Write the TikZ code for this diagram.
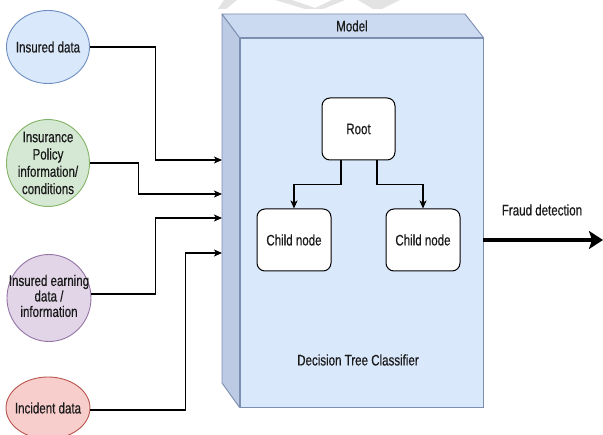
\documentclass[tikz,border=0pt]{standalone}
\usepackage{fontspec}
\setmainfont[FakeStretch=0.76,FakeBold=0.5]{Liberation Sans}
\usetikzlibrary{shapes.geometric,arrows.meta,calc}

\definecolor{blueF}{HTML}{DAE8FC}
\definecolor{blueD}{HTML}{6C8EBF}
\definecolor{greenF}{HTML}{D5E8D4}
\definecolor{greenD}{HTML}{82B366}
\definecolor{purpF}{HTML}{E1D5E7}
\definecolor{purpD}{HTML}{9673A6}
\definecolor{redF}{HTML}{F8CECC}
\definecolor{redD}{HTML}{B85450}
\definecolor{cubeTop}{HTML}{CBDAF1}
\definecolor{cubeSide}{HTML}{BCCBE3}
\definecolor{cubeLine}{HTML}{7D8FB0}
\definecolor{txt}{HTML}{1A1A1A}

\tikzset{
  src/.style={ellipse, draw, line width=0.9pt, inner sep=0pt},
  lbl/.style={align=center, inner sep=0pt, text=txt,
              font=\fontsize{15.2}{17}\selectfont},
  treebox/.style={rectangle, rounded corners=8pt, draw=black, fill=white,
                  line width=1pt, minimum width=74pt, minimum height=62pt,
                  inner sep=0pt, text=txt, font=\fontsize{15.2}{17}\selectfont},
  arr/.style={draw=black, line width=1.2pt,
              -{Stealth[length=8pt,width=7pt,inset=2pt]}},
  bigarr/.style={draw=black, line width=3.6pt,
                 -{Stealth[length=14pt,width=18pt,inset=3pt]}},
  wmark/.style={fill=black!11, draw=none},
}

\begin{document}
\begin{tikzpicture}[x=1pt, y=-1pt]
  \useasboundingbox (0,0) rectangle (603,435);
  \fill[white] (0,0) rectangle (603,435);

  % faint marks along the top edge
  \fill[wmark] (224,0) -- (237,0) -- (226,9) -- (218,9) -- cycle;
  \fill[wmark] (275,0) -- (292,0) -- (318,9) -- (305,9) -- cycle;
  \fill[wmark] (332,0) -- (345,0) -- (323,9) -- (313,9) -- cycle;
  \fill[wmark] (358,0) -- (400,0) -- (382,9) -- (373,9) -- cycle;

  % input data sources
  \node[src, fill=blueF, draw=blueD, minimum width=83pt, minimum height=73pt] (ins) at (48,47) {};
  \node[lbl] (ins-t) at (ins) {Insured data};

  \node[src, fill=greenF, draw=greenD, minimum width=83pt, minimum height=87pt] (pol) at (48,163) {};
  \node[lbl, font=\fontsize{15.2}{17.3}\selectfont] (pol-t) at (pol) {Insurance\\Policy\\information/\\conditions};

  \node[src, fill=purpF, draw=purpD, minimum width=84pt, minimum height=87pt] (earn) at (49,298) {};
  \node[lbl, font=\fontsize{15.2}{15.5}\selectfont] (earn-t) at ([yshift=2pt]earn) {Insured earning\\data /\\information};

  \node[src, fill=redF, draw=redD, minimum width=84pt, minimum height=62pt] (inc) at (48,408) {};
  \node[lbl] (inc-t) at (inc) {Incident data};

  % model cube: side face, top face, front face
  \coordinate (bTL) at (222,14);
  \coordinate (bTR) at (465,14);
  \coordinate (bBL) at (222,383);
  \node[rectangle, draw=cubeLine, fill=blueF, line width=0.9pt,
        minimum width=243pt, minimum height=369pt, inner sep=0pt] (model) at (361.5,222.5) {};
  \filldraw[fill=cubeSide, draw=cubeLine, line width=0.9pt, line join=round]
    (bTL) -- (model.north west) -- (model.south west) -- (bBL) -- cycle;
  \filldraw[fill=cubeTop, draw=cubeLine, line width=0.9pt, line join=round]
    (bTL) -- (bTR) -- (model.north east) -- (model.north west) -- cycle;
  \node[lbl] (model-t) at (352,26) {Model};
  \node[lbl] (dtc) at (358,360) {Decision Tree Classifier};

  % entry points on the side of the cube
  \coordinate (in1) at (222,160);
  \coordinate (in2) at (222,194);
  \coordinate (in3) at (222,218);
  \coordinate (in4) at (222,253);

  \draw[arr] (ins.east) -- ++(65.5,0) |- (in1);
  \draw[arr] (pol.east) -- ++(48.5,0) |- (in2);
  \draw[arr] ([yshift=4pt]earn.east) -- ++(64,0) |- (in3);
  \draw[arr] ([yshift=-2pt]inc.east) -- ++(95,0) |- (in4);

  % decision tree
  \node[treebox, minimum width=73pt] (root) at (358.5,129) {Root};
  \node[treebox] (c1) at (294,240) {Child node};
  \node[treebox] (c2) at (423,240) {Child node};

  \draw[arr] ([xshift=-17.5pt]root.south) -- ++(0,24) -| (c1.north);
  \draw[arr] ([xshift=18.5pt]root.south) -- ++(0,24) -| (c2.north);

  % output
  \coordinate (out) at (603,240);
  \draw[bigarr] (model.east |- out) -- (out);
  \node[lbl] (fraud) at (542,210) {Fraud detection};
\end{tikzpicture}
\end{document}
